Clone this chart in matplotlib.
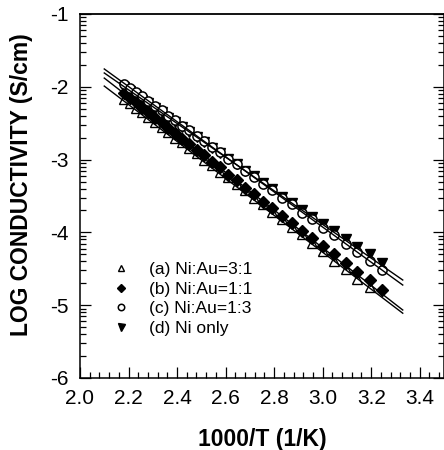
import numpy as np
import matplotlib
matplotlib.use("Agg")
import matplotlib.pyplot as plt
from matplotlib.ticker import FixedLocator, MultipleLocator

plt.rcParams["font.family"] = ["Liberation Sans", "DejaVu Sans"]

# ─── Data ─────────────────────────────────────────────────────────────────────
inv_T = [2.183, 2.207, 2.231, 2.257, 2.282, 2.309, 2.336, 2.363, 2.392, 2.420,
         2.450, 2.481, 2.512, 2.544, 2.576, 2.610, 2.645, 2.680, 2.716, 2.754,
         2.792, 2.832, 2.872, 2.914, 2.957, 3.002, 3.047, 3.095, 3.143, 3.193,
         3.245]

log_a = [-2.165, -2.222, -2.290, -2.348, -2.420, -2.480, -2.556, -2.618, -2.698, -2.764,
         -2.846, -2.916, -3.002, -3.076, -3.166, -3.245, -3.340, -3.424, -3.525, -3.612,
         -3.720, -3.812, -3.928, -4.026, -4.150, -4.258, -4.388, -4.500, -4.640, -4.755]
log_b = [-2.090, -2.160, -2.215, -2.290, -2.348, -2.425, -2.486, -2.566, -2.630, -2.715,
         -2.782, -2.870, -2.940, -3.034, -3.108, -3.205, -3.284, -3.386, -3.470, -3.578,
         -3.665, -3.778, -3.872, -3.985, -4.080, -4.190, -4.300, -4.420, -4.540, -4.660,
         -4.790]
log_c = [-1.960, -2.010, -2.078, -2.130, -2.200, -2.262, -2.320, -2.395, -2.455, -2.535,
         -2.598, -2.676, -2.745, -2.830, -2.900, -2.990, -3.065, -3.160, -3.238, -3.338,
         -3.420, -3.526, -3.615, -3.728, -3.818, -3.938, -4.036, -4.162, -4.266, -4.398,
         -4.512]
log_d = [-2.005, -2.060, -2.110, -2.178, -2.228, -2.298, -2.350, -2.425, -2.480, -2.556,
         -2.615, -2.695, -2.758, -2.840, -2.905, -2.995, -3.062, -3.156, -3.230, -3.326,
         -3.405, -3.508, -3.590, -3.698, -3.785, -3.890, -3.985, -4.090, -4.195, -4.300,
         -4.420]

labels = ["(a) Ni:Au=3:1", "(b) Ni:Au=1:1", "(c) Ni:Au=1:3", "(d) Ni only"]

# linear fits: x range and end values per series
fit_x = [2.10, 3.33]
fit_a = [-1.99, -5.11]
fit_b = [-1.88, -5.066]
fit_c = [-1.755, -4.723]
fit_d = [-1.81, -4.654]

# ─── Figure ───────────────────────────────────────────────────────────────────
fig = plt.figure(figsize=(4.44, 4.5), dpi=100)
ax = fig.add_axes([80 / 444, 72 / 450, 364 / 444, 364 / 450])

ax.plot(inv_T[:len(log_a)], log_a, ls="none", marker="^", ms=6.8, mfc="white",
        mec="black", mew=1.0, label=labels[0], zorder=2)
ax.plot(inv_T, log_b, ls="none", marker="D", ms=5.8, mfc="black",
        mec="black", mew=1.0, label=labels[1], zorder=3)
ax.plot(inv_T, log_c, ls="none", marker="o", ms=6.6, mfc="white",
        mec="black", mew=1.1, label=labels[2], zorder=5)
ax.plot(inv_T, log_d, ls="none", marker="v", ms=7.2, mfc="black",
        mec="black", mew=1.0, label=labels[3], zorder=4)

for fy in (fit_a, fit_b, fit_c, fit_d):
    ax.plot(fit_x, fy, color="black", lw=1.0, zorder=6)

ax.set_xlim(2.0, 3.5)
ax.set_ylim(-6, -1)
ax.xaxis.set_major_locator(MultipleLocator(0.2))
ax.xaxis.set_minor_locator(MultipleLocator(0.04))
ax.set_yticks([-6, -5, -4, -3, -2, -1])
minor_y = [n + np.log10(k) for n in range(-6, -1) for k in range(2, 10)]
ax.yaxis.set_minor_locator(FixedLocator(minor_y))
ax.set_xticklabels([f"{v:.1f}" for v in ax.get_xticks()])
ax.set_yticklabels([f"{int(v)}" for v in ax.get_yticks()])

ax.tick_params(which="both", direction="in", top=False, right=True,
               labelsize=15, pad=8, width=0.9)
ax.tick_params(which="major", length=8)
ax.tick_params(which="minor", length=4)
for s in ax.spines.values():
    s.set_linewidth(1.1)
ax.spines["top"].set_linewidth(1.3)

ax.set_xlabel("1000/T (1/K)", fontsize=16.5, fontweight="bold")
ax.set_ylabel("LOG CONDUCTIVITY (S/cm)", fontsize=16.5, fontweight="bold")
ax.xaxis.set_label_coords(0.5, -0.138)
ax.yaxis.set_label_coords(-0.128, 0.53)

ax.legend(loc="upper left", bbox_to_anchor=(0.09, 0.318), frameon=False,
          fontsize=12.5, handlelength=1.0, handletextpad=1.1,
          labelspacing=0.25, borderpad=0, borderaxespad=0, markerscale=0.7)

fig.savefig("out.png", dpi=100)
